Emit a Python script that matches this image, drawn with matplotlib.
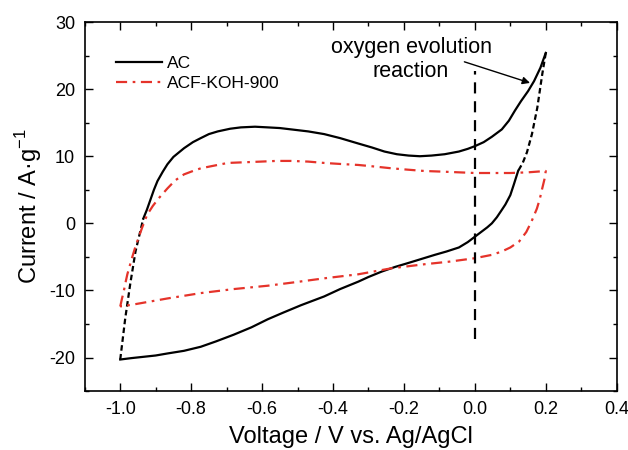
import matplotlib
matplotlib.use('Agg')
import matplotlib.pyplot as plt
from matplotlib.ticker import MultipleLocator

plt.rcParams['font.family'] = ['Liberation Sans', 'DejaVu Sans']
plt.rcParams['mathtext.fontset'] = 'custom'
plt.rcParams['mathtext.rm'] = 'Liberation Sans'
plt.rcParams['axes.unicode_minus'] = False

# AC, anodic sweep (upper branch)
ac_up_v = [-0.935, -0.925, -0.915, -0.905, -0.895, -0.88, -0.867, -0.85, -0.82, -0.795,
           -0.773, -0.75, -0.725, -0.69, -0.66, -0.62, -0.584, -0.55, -0.518, -0.47,
           -0.425, -0.38, -0.329, -0.29, -0.255, -0.22, -0.187, -0.155, -0.122, -0.085,
           -0.045, -0.02, 0.0, 0.025, 0.048, 0.076, 0.096, 0.113, 0.13, 0.15, 0.167,
           0.185, 0.2]
ac_up_i = [0.7, 2.0, 3.5, 5.0, 6.3, 7.7, 8.8, 9.9, 11.2, 12.1,
           12.7, 13.3, 13.7, 14.1, 14.3, 14.4, 14.3, 14.2, 14.0, 13.7,
           13.3, 12.7, 11.9, 11.3, 10.7, 10.3, 10.1, 10.0, 10.1, 10.3,
           10.7, 11.1, 11.5, 12.1, 12.9, 14.0, 15.3, 16.8, 18.2, 19.7, 21.2,
           23.2, 25.4]
# AC, cathodic sweep (lower branch)
ac_dn_v = [0.122, 0.11, 0.1, 0.086, 0.076, 0.062, 0.048, 0.035, 0.02, 0.0, -0.02,
           -0.045, -0.08, -0.113, -0.15, -0.187, -0.225, -0.263, -0.3, -0.329, -0.38,
           -0.425, -0.46, -0.49, -0.54, -0.584, -0.63, -0.68, -0.73, -0.773, -0.82,
           -0.867, -0.9, -0.935, -0.97, -1.0]
ac_dn_i = [7.8, 5.8, 4.2, 2.8, 2.0, 0.9, 0.0, -0.6, -1.2, -2.0, -2.8,
           -3.6, -4.2, -4.7, -5.3, -5.9, -6.5, -7.2, -8.0, -8.7, -9.8,
           -10.9, -11.6, -12.2, -13.3, -14.3, -15.5, -16.6, -17.6, -18.4, -19.0,
           -19.4, -19.7, -19.9, -20.1, -20.3]
# AC, sparse (dashed-looking) switching segments
ac_sw_right_v = [0.2, 0.19, 0.176, 0.161, 0.147, 0.135, 0.122]
ac_sw_right_i = [25.4, 22.2, 17.2, 13.3, 10.6, 9.0, 7.8]
ac_sw_left_v = [-1.0, -0.986, -0.972, -0.957, -0.935]
ac_sw_left_i = [-20.3, -14.2, -9.1, -4.2, 0.7]

# ACF-KOH-900
acf_v = [-1.0, -0.995, -0.99, -0.985, -0.98, -0.973, -0.966, -0.959, -0.952, -0.938,
         -0.924, -0.908, -0.892, -0.867, -0.845, -0.82, -0.795, -0.773, -0.735, -0.697,
         -0.65, -0.603, -0.56, -0.518, -0.47, -0.425, -0.38, -0.329, -0.28, -0.235,
         -0.19, -0.142, -0.09, -0.045, 0.0, 0.048, 0.1, 0.15, 0.2,
         0.196, 0.19, 0.183, 0.175, 0.16, 0.145, 0.125, 0.1, 0.076, 0.048, 0.0,
         -0.07, -0.142, -0.235, -0.329, -0.425, -0.51, -0.584, -0.68, -0.773, -0.867,
         -0.963, -1.0]
acf_i = [-12.4, -11.2, -10.1, -8.8, -7.6, -6.3, -5.0, -3.8, -2.7, -0.6,
         1.3, 2.6, 3.7, 5.2, 6.4, 7.3, 7.8, 8.2, 8.6, 9.0,
         9.1, 9.2, 9.3, 9.3, 9.2, 9.0, 8.85, 8.7, 8.45, 8.2,
         8.0, 7.8, 7.7, 7.6, 7.5, 7.5, 7.5, 7.6, 7.8,
         6.5, 5.2, 3.6, 2.2, 0.3, -1.3, -2.7, -3.6, -4.2, -4.7, -5.2,
         -5.7, -6.1, -6.7, -7.6, -8.2, -8.8, -9.3, -9.8, -10.4, -11.2,
         -12.1, -12.4]

# vertical marker at 0 V
marker_v = [0.0, 0.0]
marker_i = [-17.2, 22.7]

fig = plt.figure(figsize=(6.28, 4.5), dpi=100)
ax = fig.add_axes([0.135, 0.131, 0.847, 0.82])

ax.plot(ac_up_v, ac_up_i, color='k', lw=1.6, label='AC')
ax.plot(ac_dn_v, ac_dn_i, color='k', lw=1.6)
ax.plot(ac_sw_right_v, ac_sw_right_i, color='k', lw=1.6, dashes=(2.5, 1.5))
ax.plot(ac_sw_left_v, ac_sw_left_i, color='k', lw=1.6, dashes=(2.5, 1.5))
ax.plot(acf_v, acf_i, color='#e5332a', lw=1.6, dashes=(5, 2.5, 1.2, 2.5),
        label='ACF-KOH-900')
ax.plot(marker_v, marker_i, color='k', lw=1.6, dashes=(5, 3.5))

ax.annotate('', xy=(0.163, 20.8), xytext=(-0.037, 24.2),
            arrowprops=dict(arrowstyle='-|>', color='k', lw=1, mutation_scale=11))
ax.text(-0.18, 24.4, 'oxygen evolution\nreaction', ha='center', va='center',
        fontsize=15.5, linespacing=1.15)

ax.set_xlim(-1.1, 0.4)
ax.set_ylim(-25, 30)
ax.xaxis.set_minor_locator(MultipleLocator(0.1))
ax.yaxis.set_minor_locator(MultipleLocator(5))
ax.set_xticks([-1.0, -0.8, -0.6, -0.4, -0.2, 0.0, 0.2, 0.4])
ax.set_xticklabels(['-1.0', '-0.8', '-0.6', '-0.4', '-0.2', '0.0', '0.2', '0.4'])
ax.set_yticks([-20, -10, 0, 10, 20, 30])
ax.tick_params(which='both', direction='in', top=True, right=True, labelsize=13, width=1)
ax.tick_params(which='major', length=6, pad=7)
ax.tick_params(which='minor', length=3)
for s in ax.spines.values():
    s.set_linewidth(1.2)

ax.set_xlabel('Voltage / V vs. Ag/AgCl', fontsize=17, labelpad=6)
ax.set_ylabel('Current / A·g$^{\\mathregular{-1}}$', fontsize=17, labelpad=4)

ax.legend(loc='upper left', frameon=False, fontsize=12.5, handlelength=2.6,
          handletextpad=0.3, labelspacing=0.25, bbox_to_anchor=(0.03, 0.95))

fig.savefig('out.png', dpi=100)
